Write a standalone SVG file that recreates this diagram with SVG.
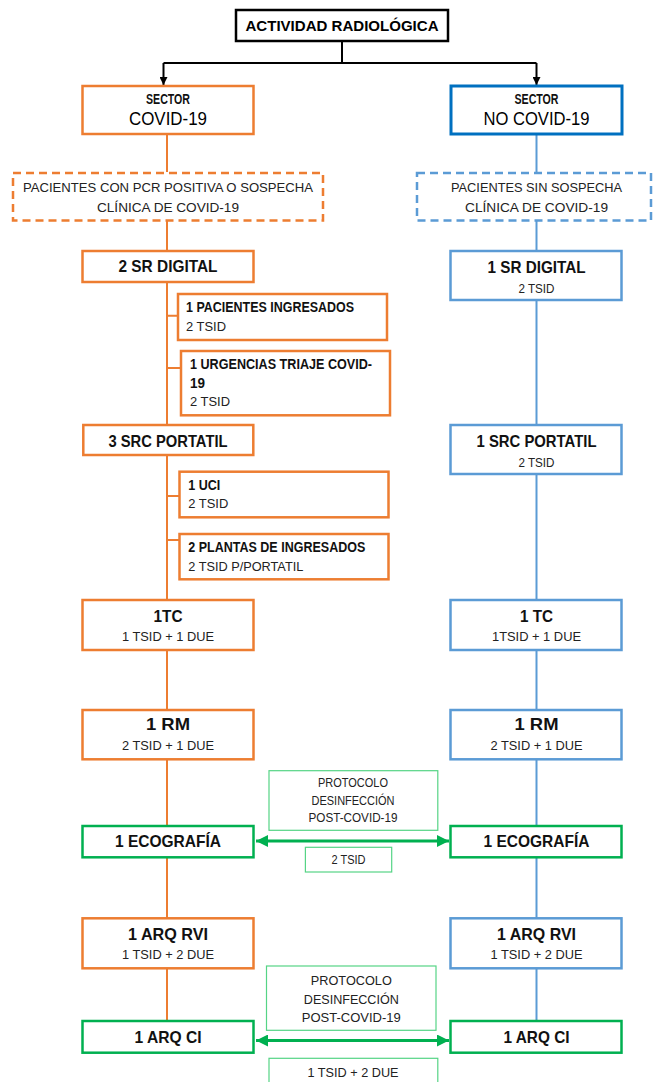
<svg xmlns="http://www.w3.org/2000/svg" width="660" height="1082" viewBox="0 0 660 1082">
<style>
text{font-family:"Liberation Sans",Arial,sans-serif;}
.or{fill:#fff;stroke:#ED7D31;stroke-width:2.5}
.bl{fill:#fff;stroke:#5B9BD5;stroke-width:2.5}
.dbl{fill:#fff;stroke:#0070C0;stroke-width:3}
.gr{fill:#fff;stroke:#00B050;stroke-width:2.5}
.lg{fill:#fff;stroke:#55D485;stroke-width:1.2}
.bk{fill:#fff;stroke:#000;stroke-width:2.5}
.dor{fill:#fff;stroke:#ED7D31;stroke-width:2.5;stroke-dasharray:8 5}
.dbu{fill:#fff;stroke:#5B9BD5;stroke-width:2.5;stroke-dasharray:8 5}
.t{font-size:16.5px;font-weight:bold;fill:#111;text-anchor:middle}
.ts{font-size:14px;font-weight:bold;fill:#111}
.s{font-size:13.5px;fill:#222;text-anchor:middle}
.sl{font-size:13.5px;fill:#222}
.p{font-size:13.5px;fill:#222;text-anchor:middle}
.lo{stroke:#ED7D31;stroke-width:2;fill:none}
.lb{stroke:#5B9BD5;stroke-width:2;fill:none}
.lk{stroke:#000;stroke-width:2;fill:none}
.lgr{stroke:#00B050;stroke-width:3;fill:none}
</style>
<defs>
<marker id="ak" viewBox="0 0 10 10" refX="10" refY="5" markerWidth="4" markerHeight="4" orient="auto"><path d="M0,0 L10,5 L0,10 z" fill="#000"/></marker>
<marker id="ag" viewBox="0 0 10 10" refX="10" refY="5" markerWidth="4" markerHeight="4" orient="auto-start-reverse"><path d="M0,0 L10,5 L0,10 z" fill="#00B050"/></marker>
</defs>
<rect width="660" height="1082" fill="#fff"/>

<g id="connectors">
<path class="lk" d="M342,41 V63 M163.5,63 H536.5"/>
<path class="lk" d="M163.5,63 V85" marker-end="url(#ak)"/>
<path class="lk" d="M536.5,63 V85" marker-end="url(#ak)"/>
<path class="lo" d="M167,134 V172 M167,221 V251 M167,282 V425 M167,455 V600 M167,650 V710 M167,759 V826 M167,857 V918 M167,968 V1021"/>
<path class="lo" d="M167,315.7 H178 M167,368 H181 M167,496 H179.5 M167,540 H179.5"/>
<path class="lb" d="M536.5,134 V172 M536.5,221 V251 M536.5,300 V425 M536.5,474 V600 M536.5,650 V710 M536.5,759 V826 M536.5,857 V918 M536.5,968 V1021"/>
<path class="lgr" d="M256,841 H449" marker-start="url(#ag)" marker-end="url(#ag)"/>
<path class="lgr" d="M256,1040.5 H449" marker-start="url(#ag)" marker-end="url(#ag)"/>
</g>

<g id="n-actividad"><rect class="bk" x="236" y="10" width="212" height="31"/><text x="342" y="30.5" font-size="15.5" font-weight="bold" fill="#000" text-anchor="middle" textLength="193" lengthAdjust="spacingAndGlyphs">ACTIVIDAD RADIOLÓGICA</text></g>

<g id="n-sector-covid"><rect class="or" x="82.5" y="86" width="171" height="48"/><text class="ts" x="168" y="103.5" font-size="11.5" text-anchor="middle" textLength="44" lengthAdjust="spacingAndGlyphs">SECTOR</text><text x="168" y="125" font-size="17.5" fill="#000" text-anchor="middle" textLength="78" lengthAdjust="spacingAndGlyphs">COVID-19</text></g>
<g id="n-sector-nocovid"><rect class="dbl" x="451" y="86" width="171" height="48"/><text class="ts" x="536.5" y="103.5" font-size="11.5" text-anchor="middle" textLength="44" lengthAdjust="spacingAndGlyphs">SECTOR</text><text x="536.5" y="125" font-size="17.5" fill="#000" text-anchor="middle" textLength="106" lengthAdjust="spacingAndGlyphs">NO COVID-19</text></g>

<g id="n-pac-covid"><rect class="dor" x="13" y="173" width="310" height="47.5"/><text class="p" x="168" y="192" textLength="290" lengthAdjust="spacingAndGlyphs">PACIENTES CON PCR POSITIVA O SOSPECHA</text><text class="p" x="168" y="211.7" textLength="142" lengthAdjust="spacingAndGlyphs">CLÍNICA DE COVID-19</text></g>
<g id="n-pac-nocovid"><rect class="dbu" x="417" y="173" width="234" height="47.5"/><text class="p" x="536.5" y="192" textLength="171" lengthAdjust="spacingAndGlyphs">PACIENTES SIN SOSPECHA</text><text class="p" x="536.5" y="211.7" textLength="143" lengthAdjust="spacingAndGlyphs">CLÍNICA DE COVID-19</text></g>

<g id="n-2sr"><rect class="or" x="82.5" y="251" width="171" height="31"/><text class="t" x="168" y="272.3" textLength="99" lengthAdjust="spacingAndGlyphs">2 SR DIGITAL</text></g>
<g id="n-pacing"><rect class="or" x="178" y="294" width="209" height="46"/><text class="ts" x="186" y="311.7" textLength="168" lengthAdjust="spacingAndGlyphs">1 PACIENTES INGRESADOS</text><text class="sl" x="186" y="330.7" textLength="40" lengthAdjust="spacingAndGlyphs">2 TSID</text></g>
<g id="n-urg"><rect class="or" x="181" y="351" width="209" height="64.3"/><text class="ts" x="190" y="369" textLength="182" lengthAdjust="spacingAndGlyphs">1 URGENCIAS TRIAJE COVID-</text><text class="ts" x="190" y="387.7" textLength="15" lengthAdjust="spacingAndGlyphs">19</text><text class="sl" x="190" y="406" textLength="40" lengthAdjust="spacingAndGlyphs">2 TSID</text></g>
<g id="n-3src"><rect class="or" x="83.3" y="425" width="170" height="30"/><text class="t" x="168" y="446.7" textLength="119" lengthAdjust="spacingAndGlyphs">3 SRC PORTATIL</text></g>
<g id="n-uci"><rect class="or" x="179.5" y="471.7" width="209" height="45.6"/><text class="ts" x="188.3" y="490" textLength="32" lengthAdjust="spacingAndGlyphs">1 UCI</text><text class="sl" x="188.3" y="508.3" textLength="40" lengthAdjust="spacingAndGlyphs">2 TSID</text></g>
<g id="n-plantas"><rect class="or" x="179.5" y="534" width="209" height="45.3"/><text class="ts" x="188.3" y="552.3" textLength="177" lengthAdjust="spacingAndGlyphs">2 PLANTAS DE INGRESADOS</text><text class="sl" x="188.3" y="571" textLength="115" lengthAdjust="spacingAndGlyphs">2 TSID P/PORTATIL</text></g>

<g id="n-1sr"><rect class="bl" x="450.5" y="251" width="171" height="49"/><text class="t" x="536.5" y="272.5" textLength="98" lengthAdjust="spacingAndGlyphs">1 SR DIGITAL</text><text class="s" x="536.5" y="292.7" textLength="36" lengthAdjust="spacingAndGlyphs">2 TSID</text></g>
<g id="n-1src"><rect class="bl" x="450.5" y="425" width="171" height="49"/><text class="t" x="536.5" y="446.5" textLength="120" lengthAdjust="spacingAndGlyphs">1 SRC PORTATIL</text><text class="s" x="536.5" y="466.5" textLength="36" lengthAdjust="spacingAndGlyphs">2 TSID</text></g>

<g id="n-tc-l"><rect class="or" x="82.5" y="600" width="171" height="50"/><text class="t" x="168" y="621.7" textLength="29" lengthAdjust="spacingAndGlyphs">1TC</text><text class="s" x="168" y="641" textLength="92" lengthAdjust="spacingAndGlyphs">1 TSID + 1 DUE</text></g>
<g id="n-tc-r"><rect class="bl" x="450.5" y="600" width="171" height="50"/><text class="t" x="536.5" y="621.7" textLength="33" lengthAdjust="spacingAndGlyphs">1 TC</text><text class="s" x="536.5" y="641" textLength="89" lengthAdjust="spacingAndGlyphs">1TSID + 1 DUE</text></g>
<g id="n-rm-l"><rect class="or" x="82.5" y="710" width="171" height="49.3"/><text class="t" x="168" y="730" textLength="44" lengthAdjust="spacingAndGlyphs">1 RM</text><text class="s" x="168" y="750" textLength="92" lengthAdjust="spacingAndGlyphs">2 TSID + 1 DUE</text></g>
<g id="n-rm-r"><rect class="bl" x="450.5" y="710" width="171" height="49.3"/><text class="t" x="536.5" y="730" textLength="44" lengthAdjust="spacingAndGlyphs">1 RM</text><text class="s" x="536.5" y="750" textLength="92" lengthAdjust="spacingAndGlyphs">2 TSID + 1 DUE</text></g>

<g id="n-prot1"><rect class="lg" x="269" y="770.7" width="168.8" height="59.6"/><text class="p" x="353" y="787.3" textLength="70" lengthAdjust="spacingAndGlyphs">PROTOCOLO</text><text class="p" x="353" y="805" textLength="83" lengthAdjust="spacingAndGlyphs">DESINFECCIÓN</text><text class="p" x="353" y="822.3" textLength="89" lengthAdjust="spacingAndGlyphs">POST-COVID-19</text></g>
<g id="n-eco-l"><rect class="gr" x="82.5" y="826" width="171" height="31.3"/><text class="t" x="168" y="847.3" textLength="106" lengthAdjust="spacingAndGlyphs">1 ECOGRAFÍA</text></g>
<g id="n-eco-r"><rect class="gr" x="450.5" y="826" width="171" height="31.3"/><text class="t" x="536.5" y="847.3" textLength="106" lengthAdjust="spacingAndGlyphs">1 ECOGRAFÍA</text></g>
<g id="n-2tsid"><rect class="lg" x="305.4" y="847.3" width="86.3" height="24.7"/><text class="p" x="348.5" y="864" textLength="34" lengthAdjust="spacingAndGlyphs">2 TSID</text></g>

<g id="n-rvi-l"><rect class="or" x="82.5" y="918.3" width="171" height="50"/><text class="t" x="168" y="940" textLength="80" lengthAdjust="spacingAndGlyphs">1 ARQ RVI</text><text class="s" x="168" y="959.3" textLength="92" lengthAdjust="spacingAndGlyphs">1 TSID + 2 DUE</text></g>
<g id="n-rvi-r"><rect class="bl" x="450.5" y="918.3" width="171" height="50"/><text class="t" x="536.5" y="940" textLength="79" lengthAdjust="spacingAndGlyphs">1 ARQ RVI</text><text class="s" x="536.5" y="959.3" textLength="92" lengthAdjust="spacingAndGlyphs">1 TSID + 2 DUE</text></g>

<g id="n-prot2"><rect class="lg" x="266.5" y="966" width="169.5" height="64.3"/><text class="p" x="351.3" y="985" font-size="14.5" textLength="81" lengthAdjust="spacingAndGlyphs">PROTOCOLO</text><text class="p" x="351.3" y="1004" font-size="14.5" textLength="95" lengthAdjust="spacingAndGlyphs">DESINFECCIÓN</text><text class="p" x="351.3" y="1022.3" font-size="14.5" textLength="99" lengthAdjust="spacingAndGlyphs">POST-COVID-19</text></g>
<g id="n-ci-l"><rect class="gr" x="82.5" y="1021" width="171" height="31.7"/><text class="t" x="168" y="1043" textLength="67" lengthAdjust="spacingAndGlyphs">1 ARQ CI</text></g>
<g id="n-ci-r"><rect class="gr" x="450.5" y="1021" width="171" height="31.7"/><text class="t" x="536.5" y="1043" textLength="66" lengthAdjust="spacingAndGlyphs">1 ARQ CI</text></g>
<g id="n-tsiddue"><rect class="lg" x="269" y="1058.3" width="168.8" height="30"/><text class="p" x="353" y="1076.5" font-size="14" textLength="91" lengthAdjust="spacingAndGlyphs">1 TSID + 2 DUE</text></g>
</svg>
